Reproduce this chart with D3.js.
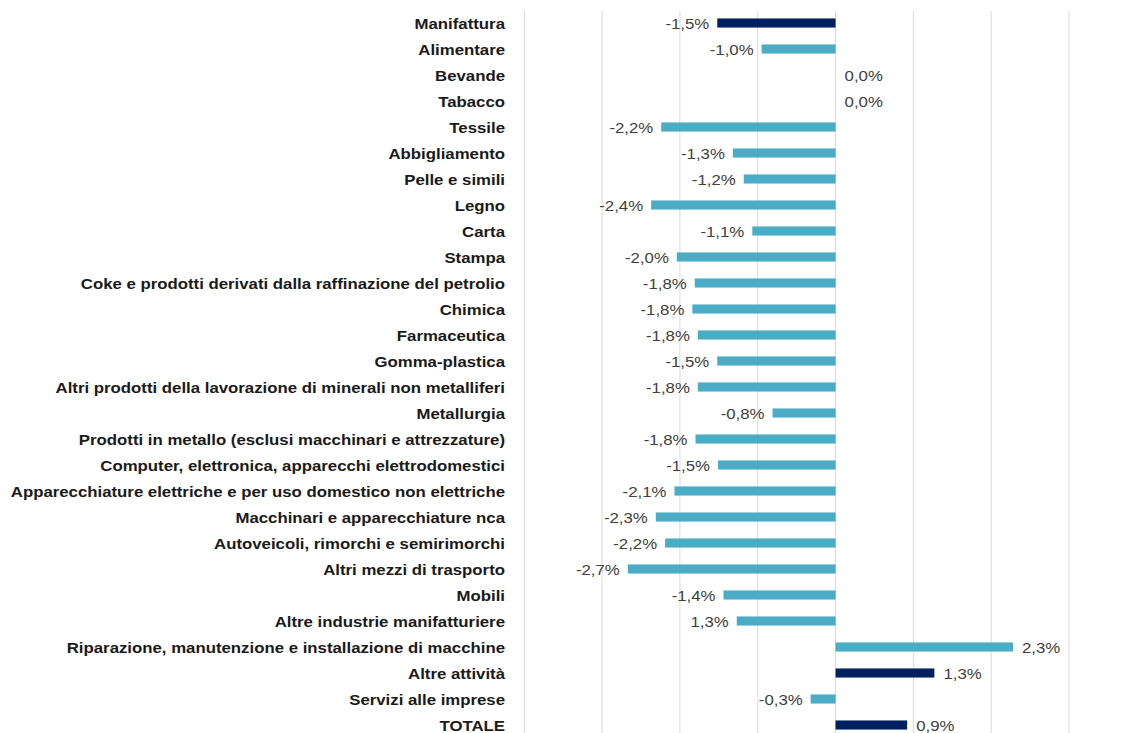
<!DOCTYPE html>
<html><head><meta charset="utf-8">
<script src="https://cdn.jsdelivr.net/npm/d3@7"></script>
<style>body{margin:0;background:#fff}svg{display:block}</style>
</head><body>
<svg id="c" width="1139" height="733"></svg>
<script>
const categories = ["Manifattura","Alimentare","Bevande","Tabacco","Tessile","Abbigliamento","Pelle e simili","Legno","Carta","Stampa","Coke e prodotti derivati dalla raffinazione del petrolio","Chimica","Farmaceutica","Gomma-plastica","Altri prodotti della lavorazione di minerali non metalliferi","Metallurgia","Prodotti in metallo (esclusi macchinari e attrezzature)","Computer, elettronica, apparecchi elettrodomestici","Apparecchiature elettriche e per uso domestico non elettriche","Macchinari e apparecchiature nca","Autoveicoli, rimorchi e semirimorchi","Altri mezzi di trasporto","Mobili","Altre industrie manifatturiere","Riparazione, manutenzione e installazione di macchine","Altre attività","Servizi alle imprese","TOTALE"];
const values = [-1.52,-0.95,0,0,-2.24,-1.32,-1.18,-2.37,-1.07,-2.04,-1.81,-1.84,-1.77,-1.52,-1.77,-0.81,-1.80,-1.51,-2.07,-2.31,-2.19,-2.67,-1.44,-1.27,2.28,1.27,-0.32,0.92];
const valueLabels = ["-1,5%","-1,0%","0,0%","0,0%","-2,2%","-1,3%","-1,2%","-2,4%","-1,1%","-2,0%","-1,8%","-1,8%","-1,8%","-1,5%","-1,8%","-0,8%","-1,8%","-1,5%","-2,1%","-2,3%","-2,2%","-2,7%","-1,4%","1,3%","2,3%","1,3%","-0,3%","0,9%"];
const highlighted = ["Manifattura","Altre attività","TOTALE"];
const gridTicks = [-4,-3,-2,-1,0,1,2,3];

const svg = d3.select("#c");
const x = d3.scaleLinear().domain([-4,3]).range([524.3,1069]);
const y = d3.scaleBand().domain(categories).range([10,738]).paddingInner(0.65).paddingOuter(0.325);

svg.append("g").selectAll("line").data(gridTicks).join("line")
  .attr("x1",d=>x(d)).attr("x2",d=>x(d)).attr("y1",11).attr("y2",733)
  .attr("stroke","#d9d9d9").attr("stroke-width",1);

const data = categories.map((c,i)=>({c,v:values[i],l:valueLabels[i]}));

svg.append("g").selectAll("rect").data(data).join("rect")
  .attr("x",d=>x(Math.min(0,d.v))).attr("width",d=>Math.abs(x(d.v)-x(0)))
  .attr("y",d=>y(d.c)).attr("height",y.bandwidth())
  .attr("fill",d=>highlighted.includes(d.c)?"#002060":"#4bacc6");

svg.append("g").selectAll("text").data(data).join("text")
  .attr("transform",d=>`translate(${d.v<0? x(d.v)-8 : x(d.v)+9},${y(d.c)+y.bandwidth()/2}) scale(1.2,1)`)
  .attr("dy","0.42em")
  .attr("text-anchor",d=>d.v<0?"end":"start")
  .attr("font-family","Liberation Sans, Arial, sans-serif")
  .attr("font-size",14).attr("fill","#404040")
  .text(d=>d.l);

svg.append("g").selectAll("text").data(categories).join("text")
  .attr("transform",d=>`translate(505,${y(d)+y.bandwidth()/2}) scale(1.12,1)`)
  .attr("dy","0.42em")
  .attr("text-anchor","end")
  .attr("font-family","Liberation Sans, Arial, sans-serif")
  .attr("font-weight","bold").attr("font-size",15).attr("fill","#1a1a1a")
  .text(d=>d);
</script>
</body></html>
